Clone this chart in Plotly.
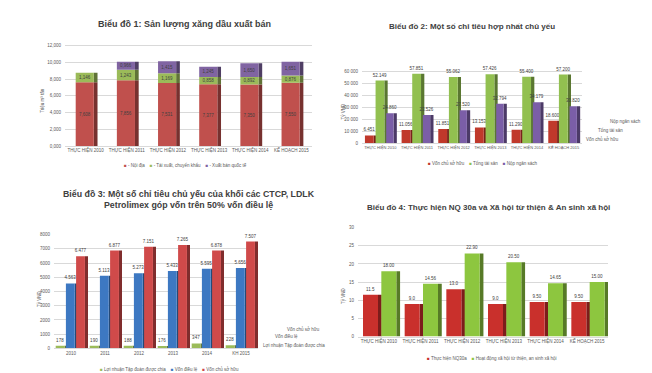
import plotly.graph_objects as go

# ---------------- DATA ----------------
cats_year = ["THỰC HIỆN 2010", "THỰC HIỆN 2011", "THỰC HIỆN 2012",
             "THỰC HIỆN 2013", "THỰC HIỆN 2014", "KẾ HOẠCH 2015"]

# Chart 1 (Triệu m3 tấn)
noi_dia = [7.608, 7.856, 7.531, 7.377, 7.350, 7.550]
tai_xuat = [1.146, 1.243, 1.169, 0.858, 0.892, 0.876]
xuat_ban_qt = [0.0, 0.966, 1.415, 1.245, 1.650, 1.651]
y1_ticks = [0, 2, 4, 6, 8, 10, 12]

# Chart 2 (Tỷ VNĐ)
von_csh2 = [6451, 11056, 11851, 13153, 11290, 18600]
tong_ts = [52149, 57851, 55062, 57426, 55400, 57200]
nop_ns = [24860, 23526, 27520, 32794, 34179, 30820]
y2_ticks = [0, 10000, 20000, 30000, 40000, 50000, 60000]

# Chart 3 (Tỷ VNĐ)
cats3 = ["2010", "2011", "2012", "2013", "2014", "KH 2015"]
loi_nhuan = [178, 190, 188, 176, 347, 228]
von_dl = [4563, 5113, 5273, 5433, 5595, 5656]
von_csh3 = [6477, 6877, 7151, 7265, 6878, 7507]

# Chart 4 (Tỷ VNĐ)
nq30a = [11.5, 9.0, 13.0, 9.0, 9.5, 9.5]
nq30a_labels = ["11.5", "9.0", "13.0", "9.0", "9.50", "9.50"]
xa_hoi = [18.00, 14.56, 22.90, 20.50, 14.65, 15.00]

# ---------------- STYLE ----------------
W, H = 652, 373
FONT = "Liberation Sans"
GRID = "#D9D9D9"
TXT = "#595959"


def fx(p):
    return p / W


def fy(p):
    return 1 - p / H


fig = go.Figure()


def dark(hexc, f=0.62):
    hexc = hexc.lstrip("#")
    r, g, b = (int(hexc[i:i + 2], 16) for i in (0, 2, 4))
    return "#%02x%02x%02x" % (int(r * f), int(g * f), int(b * f))


def bars(x, y, color, ax, offset, width, base=None, text=None,
         textpos="outside", depth=0.09):
    # side face (darker) drawn first
    fig.add_trace(go.Bar(x=x, y=y, base=base, xaxis="x" + ax, yaxis="y" + ax,
                         offset=offset + width, width=depth,
                         marker=dict(color=dark(color), line=dict(width=0)),
                         showlegend=False, hoverinfo="skip"))
    fig.add_trace(go.Bar(x=x, y=y, base=base, xaxis="x" + ax, yaxis="y" + ax,
                         offset=offset, width=width,
                         marker=dict(color=color, line=dict(width=0)),
                         text=text, textposition=textpos if text else "none",
                         insidetextanchor="middle", constraintext="none",
                         textangle=0,
                         textfont=dict(size=4.5, color="#404040", family=FONT),
                         cliponaxis=False, showlegend=False))


legend_rows = {}


def legend_item(name, color, key):
    legend_rows.setdefault(key, []).append(
        f"<span style='color:{color}'>■</span> {name}")


# ---- Chart 1: stacked ----
c_red1, c_grn1, c_pur1 = "#C0504D", "#9BBB59", "#8064A2"
base_b = noi_dia
base_c = [a + b for a, b in zip(noi_dia, tai_xuat)]
fmt1 = lambda v: (f"{v:.3f}".replace(".", ",") if v > 0 else "")
bars(cats_year, noi_dia, c_red1, "", -0.24, 0.44,
     text=[fmt1(v) for v in noi_dia], textpos="inside")
bars(cats_year, tai_xuat, c_grn1, "", -0.24, 0.44, base=base_b,
     text=[fmt1(v) for v in tai_xuat], textpos="inside")
bars(cats_year, xuat_ban_qt, c_pur1, "", -0.24, 0.44, base=base_c,
     text=[fmt1(v) for v in xuat_ban_qt], textpos="inside")
legend_item("- Nội địa", c_red1, 1)
legend_item("- Tái xuất, chuyển khẩu", c_grn1, 1)
legend_item("- Xuất bán quốc tế", c_pur1, 1)

# ---- Chart 2: grouped ----
c_red2, c_grn2, c_pur2 = "#C0392B", "#92C050", "#7B5EA7"
fmt2 = lambda v: f"{v:,}".replace(",", ".")
bars(cats_year, von_csh2, c_red2, "2", -0.42, 0.24, text=[fmt2(v) for v in von_csh2])
bars(cats_year, tong_ts, c_grn2, "2", -0.13, 0.24, text=[fmt2(v) for v in tong_ts])
bars(cats_year, nop_ns, c_pur2, "2", 0.16, 0.2, text=[fmt2(v) for v in nop_ns])
legend_item("Vốn chủ sở hữu", c_red2, 2)
legend_item("Tổng tài sản", c_grn2, 2)
legend_item("Nộp ngân sách", c_pur2, 2)

# ---- Chart 3: grouped ----
c_grn3, c_blu3, c_red3 = "#9BBB59", "#3D78C2", "#D04A4A"
fmt3 = lambda v: f"{v:,}".replace(",", ".")
bars(cats3, loi_nhuan, c_grn3, "3", -0.45, 0.26, text=[fmt3(v) for v in loi_nhuan])
bars(cats3, von_dl, c_blu3, "3", -0.15, 0.26, text=[fmt3(v) for v in von_dl])
bars(cats3, von_csh3, c_red3, "3", 0.15, 0.26, text=[fmt3(v) for v in von_csh3])
legend_item("Lợi nhuận Tập đoàn được chia", c_grn3, 3)
legend_item("Vốn điều lệ", c_blu3, 3)
legend_item("Vốn chủ sở hữu", c_red3, 3)

# ---- Chart 4: grouped ----
c_red4, c_grn4 = "#C9302C", "#8DC63F"
bars(cats_year, nq30a, c_red4, "4", -0.38, 0.36, text=nq30a_labels)
bars(cats_year, xa_hoi, c_grn4, "4", 0.06, 0.36, text=[f"{v:.2f}" for v in xa_hoi])
legend_item("Thực hiện NQ30a", c_red4, 4)
legend_item("Hoạt động xã hội từ thiện, an sinh xã hội", c_grn4, 4)

# ---------------- AXES ----------------
tickf = dict(size=4.5, color=TXT, family=FONT)


def xax(dom, anchor, fs=4.5):
    return dict(domain=dom, anchor=anchor, type="category", range=[-0.5, 5.5],
                showgrid=False, zeroline=False, showline=True, linecolor=GRID,
                linewidth=0.6, ticks="", tickfont=dict(tickf, size=fs), tickangle=0,
                fixedrange=True)


def yax(dom, anchor, rng, **kw):
    d = dict(domain=dom, anchor=anchor, range=rng, showgrid=True, gridcolor=GRID,
             gridwidth=0.6, zeroline=False, showline=False, ticks="",
             tickfont=tickf, ticklabelstandoff=3, fixedrange=True)
    d.update(kw)
    return d


fig.update_layout(
    xaxis=xax([fx(57), fx(304)], "y"),
    yaxis=yax([fy(138), fy(31.75)], "x", [0, 12.5], tickvals=y1_ticks,
              ticktext=[f"{v:.3f}".replace(".", ",") for v in y1_ticks]),
    xaxis2=xax([fx(354), fx(574)], "y2", fs=4),
    yaxis2=yax([fy(135), fy(49.8)], "x2", [0, 70000], tickvals=y2_ticks,
               ticktext=[f"{v:,}".replace(",", " ") for v in y2_ticks]),
    xaxis3=xax([fx(46), fx(250)], "y3"),
    yaxis3=yax([fy(343), fy(227.6)], "x3", [0, 8000], dtick=1000),
    xaxis4=xax([fx(350), fx(600)], "y4"),
    yaxis4=yax([fy(331), fy(220.6)], "x4", [0, 30], dtick=5),
)

# ---------------- TEXT ----------------
ann = []
title_font = dict(family=FONT, color="#404040")
ann.append(dict(text="<b>Biểu đồ 1: Sản lượng xăng dầu xuất bán</b>", x=fx(176), y=fy(14),
                font=dict(title_font, size=9)))
ann.append(dict(text="<b>Biểu đồ 2: Một số chỉ tiêu hợp nhất chủ yếu</b>", x=fx(464), y=fy(17),
                font=dict(title_font, size=8)))
ann.append(dict(text="<b>Biểu đồ 3: Một số chỉ tiêu chủ yếu của khối các CTCP, LDLK<br>"
                     "Petrolimex góp vốn trên 50% vốn điều lệ</b>", x=fx(181), y=fy(192),
                font=dict(title_font, size=8.8)))
ann.append(dict(text="<b>Biểu đồ 4: Thực hiện NQ 30a và Xã hội từ thiện & An sinh xã hội</b>",
                x=fx(480), y=fy(200), font=dict(title_font, size=8)))
small = dict(family=FONT, color=TXT, size=4.5)
for t, xx, yy in [("Triệu m³ tấn", 35, 92), ("Tỷ VNĐ", 335, 103),
                  ("Tỷ VNĐ", 31, 293), ("Tỷ VNĐ", 335, 290)]:
    ann.append(dict(text=t, x=fx(xx), y=fy(yy), textangle=-90, font=small))
for t, xx, yy in [("Nộp ngân sách", 600, 113), ("Tổng tài sản", 588, 122),
                  ("Vốn chủ sở hữu", 576, 131),
                  ("Vốn chủ sở hữu", 277, 323), ("Vốn điều lệ", 265, 331),
                  ("Lợi nhuận Tập đoàn được chia", 253, 340)]:
    ann.append(dict(text=t, x=fx(xx), y=fy(yy), xanchor="left", font=small))
# legends (one row of coloured squares + labels per chart)
for key, xx, yy in [(1, 177, 157), (2, 475, 155), (3, 161, 364), (4, 483, 353)]:
    ann.append(dict(text="&nbsp;&nbsp;&nbsp;&nbsp;".join(legend_rows[key]),
                    x=fx(xx), y=fy(yy), font=small))
for a in ann:
    a.setdefault("xanchor", "center")
    a.update(xref="paper", yref="paper", yanchor="middle", showarrow=False)

fig.update_layout(
    annotations=ann, width=W, height=H, margin=dict(l=0, r=0, t=0, b=0),
    paper_bgcolor="white", plot_bgcolor="white", barmode="group",
    font=dict(family=FONT, color=TXT), showlegend=False,
)

fig.write_html("out.html", config={"displayModeBar": False})
